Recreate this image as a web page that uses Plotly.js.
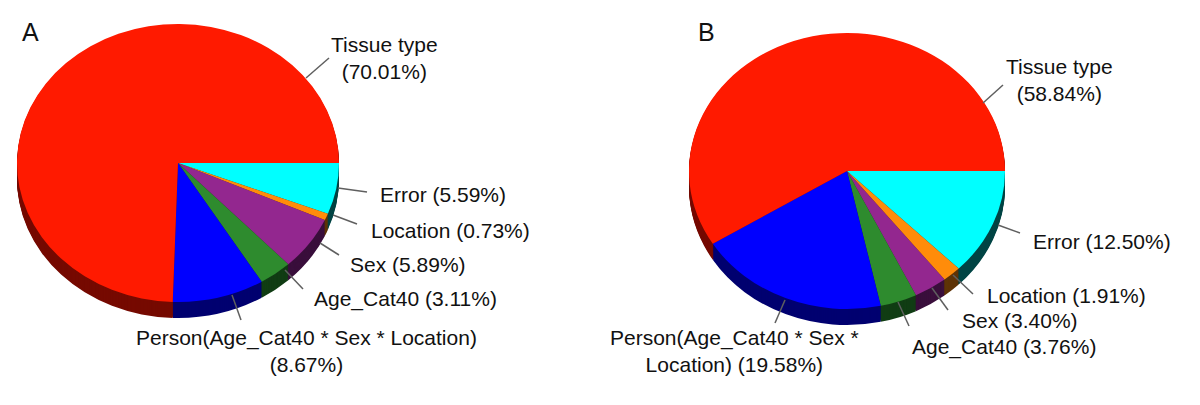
<!DOCTYPE html>
<html>
<head>
<meta charset="utf-8">
<script src="https://cdn.plot.ly/plotly-3.0.1.min.js"></script>
<style>html,body{margin:0;padding:0;background:#fff}#chart{width:1200px;height:405px}</style>
</head>
<body>
<div id="chart"></div>
<script>
var categories = ['Error', 'Location', 'Sex', 'Age_Cat40', 'Person', 'Tissue type'];
var valuesA = [5.59, 0.73, 5.89, 3.11, 8.67, 70.01];
var valuesB = [12.50, 1.91, 3.40, 3.76, 19.58, 58.84];
var topColors = ['#00ffff', '#ff8c0a', '#93278f', '#2e8b2e', '#0000ff', '#ff1a00'];
var sideColors = ['#004444', '#5e3306', '#3a0f3c', '#113d14', '#000070', '#760a00'];

var W = 1200, H = 405, DEPTH = 16;
var pieA = {cx: 178, cy: 163, rx: 161, ry: 139};
var pieB = {cx: 847, cy: 171, rx: 158, ry: 138};

var labelsText = [
  ['A', 30, 32, 25],
  ['B', 707, 32, 25],
  ['Tissue type<br>(70.01%)', 384, 58, 21],
  ['Error (5.59%)', 443, 195, 21],
  ['Location (0.73%)', 450, 230, 21],
  ['Sex (5.89%)', 408, 264, 21],
  ['Age_Cat40 (3.11%)', 405, 299, 21],
  ['Person(Age_Cat40 * Sex * Location)<br>(8.67%)', 306, 351, 21],
  ['Tissue type<br>(58.84%)', 1059, 80, 21],
  ['Error (12.50%)', 1102, 241, 21],
  ['Location (1.91%)', 1066, 295, 21],
  ['Sex (3.40%)', 1020, 320, 21],
  ['Age_Cat40 (3.76%)', 1004, 347, 21],
  ['Person(Age_Cat40 * Sex *<br>Location) (19.58%)', 734, 351, 21]
];
var leaders = [
  [306, 78, 329, 58], [338, 188, 367, 192], [333, 215, 357, 224], [320, 243, 339, 255],
  [285, 270, 303, 289], [232, 295, 241, 320],
  [983, 103, 1003, 85], [998, 225, 1020, 233], [953, 275, 973, 294], [932, 288, 948, 310],
  [898, 302, 909, 326], [785, 300, 775, 323]
];

function pieTrace(p, values, colors) {
  return {
    type: 'pie', labels: categories, values: values, sort: false, direction: 'clockwise', rotation: 90,
    textinfo: 'none', hoverinfo: 'skip', showlegend: false,
    marker: {colors: colors, line: {width: 0}},
    domain: {
      x: [(p.cx - p.rx) / W, (p.cx + p.rx) / W],
      y: [(H - p.cy - p.rx) / H, (H - p.cy + p.rx) / H]
    }
  };
}

var traces = [], placements = [];
[[pieA, valuesA], [pieB, valuesB]].forEach(function (entry) {
  for (var d = DEPTH; d >= 1; d--) {
    traces.push(pieTrace(entry[0], entry[1], sideColors));
    placements.push({p: entry[0], dy: d});
  }
  traces.push(pieTrace(entry[0], entry[1], topColors));
  placements.push({p: entry[0], dy: 0});
});

var layout = {
  width: W, height: H, margin: {l: 0, r: 0, t: 0, b: 0},
  paper_bgcolor: '#ffffff', showlegend: false,
  font: {family: '"Liberation Sans", Arial, sans-serif', color: '#111111', size: 21},
  annotations: labelsText.map(function (a) {
    return {text: a[0], x: a[1] / W, y: 1 - a[2] / H, xref: 'paper', yref: 'paper',
      xanchor: 'center', yanchor: 'middle', align: 'center', showarrow: false, font: {size: a[3]}};
  }),
  shapes: leaders.map(function (s) {
    return {type: 'line', xref: 'paper', yref: 'paper', x0: s[0] / W, y0: 1 - s[1] / H,
      x1: s[2] / W, y1: 1 - s[3] / H, line: {color: '#5f5f5f', width: 1.5}};
  })
};

Plotly.newPlot('chart', traces, layout, {displayModeBar: false, staticPlot: true}).then(function (gd) {
  // Squash every pie into the tilted ellipse and stack the side copies below the top face.
  var groups = gd.querySelectorAll('.pielayer .trace');
  groups.forEach(function (g, i) {
    var pl = placements[i], p = pl.p, k = p.ry / p.rx;
    g.setAttribute('transform',
      'translate(' + p.cx + ',' + (p.cy + pl.dy) + ') scale(1,' + k + ') translate(' + (-p.cx) + ',' + (-p.cy) + ')');
  });
});
</script>
</body>
</html>
